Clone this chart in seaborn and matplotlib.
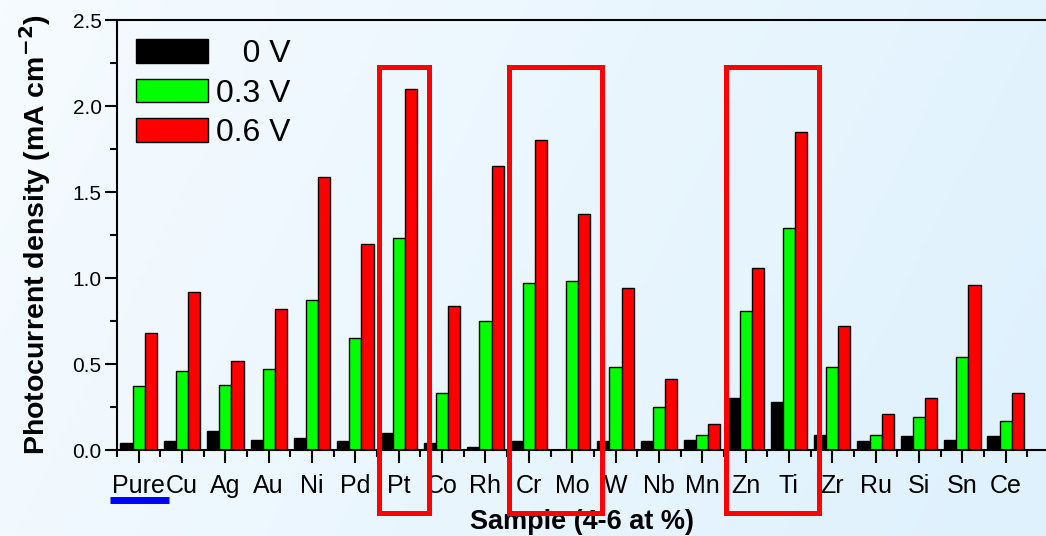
import numpy as np
import pandas as pd
import seaborn as sns
import matplotlib.pyplot as plt
from matplotlib.patches import Rectangle
from matplotlib.ticker import MultipleLocator

# Data
samples = ['Pure', 'Cu', 'Ag', 'Au', 'Ni', 'Pd', 'Pt', 'Co', 'Rh', 'Cr', 'Mo',
           'W', 'Nb', 'Mn', 'Zn', 'Ti', 'Zr', 'Ru', 'Si', 'Sn', 'Ce']
v_0 = [0.04, 0.05, 0.11, 0.06, 0.07, 0.05, 0.10, 0.04, 0.02, 0.05, 0.0,
       0.05, 0.05, 0.06, 0.30, 0.28, 0.09, 0.05, 0.08, 0.06, 0.08]
v_03 = [0.37, 0.46, 0.38, 0.47, 0.87, 0.65, 1.23, 0.33, 0.75, 0.97, 0.98,
        0.48, 0.25, 0.09, 0.81, 1.29, 0.48, 0.09, 0.19, 0.54, 0.17]
v_06 = [0.68, 0.92, 0.52, 0.82, 1.59, 1.20, 2.10, 0.84, 1.65, 1.80, 1.37,
        0.94, 0.41, 0.15, 1.06, 1.85, 0.72, 0.21, 0.30, 0.96, 0.33]
voltages = ['   0 V', '0.3 V', '0.6 V']
colors = ['#000000', '#00ff00', '#ff0000']
# highlighted groups (first, last sample index)
highlight = [(6, 6), (9, 10), (14, 15)]

df = pd.DataFrame({
    'sample': samples * 3,
    'voltage': [voltages[0]] * 21 + [voltages[1]] * 21 + [voltages[2]] * 21,
    'current': v_0 + v_03 + v_06,
})

plt.rcParams['font.family'] = ['Liberation Sans', 'DejaVu Sans']

fig = plt.figure(figsize=(10.46, 5.36), dpi=100)

# light blue gradient background
bg = fig.add_axes([0, 0, 1, 1], zorder=-10)
grad = np.linspace(0, 1, 256)[None, :]
grad = grad * 0.8 + np.linspace(0, 0.2, 64)[:, None]
cmap = plt.matplotlib.colors.LinearSegmentedColormap.from_list(
    'bg', ['#f6fbff', '#def1fd'])
bg.imshow(grad, aspect='auto', cmap=cmap, extent=[0, 1, 0, 1])
bg.axis('off')

ax = fig.add_axes([117 / 1046, 86 / 536, 929 / 1046, 430 / 536])
ax.patch.set_alpha(0)

sns.barplot(data=df, x='sample', y='current', hue='voltage', palette=colors,
            width=0.84, edgecolor='black', linewidth=1, ax=ax, saturation=1)

ax.set_xlim(-0.5, 20.93)
ax.set_ylim(0, 2.5)
ax.yaxis.set_major_locator(MultipleLocator(0.5))
ax.yaxis.set_minor_locator(MultipleLocator(0.25))
ax.xaxis.set_minor_locator(MultipleLocator(0.5))
ax.yaxis.set_major_formatter(plt.FormatStrFormatter('%.1f'))
ax.tick_params(axis='both', which='major', direction='out', length=9, width=1.5,
               color='black')
ax.tick_params(axis='both', which='minor', direction='out', length=5, width=1.5)
ax.tick_params(axis='x', labelsize=18, pad=8)
ax.tick_params(axis='y', labelsize=15, pad=2)
for s in ['left', 'bottom', 'top']:
    ax.spines[s].set_linewidth(1.5)
ax.spines['right'].set_visible(False)

ax.set_ylabel('Photocurrent density (mA cm$^{\\mathbf{-2}}$)', fontsize=20.5,
              fontweight='bold', labelpad=14)
ax.set_xlabel('Sample (4-6 at %)', fontsize=19.5, fontweight='bold', labelpad=8)

leg = ax.legend(loc='upper left', frameon=False, fontsize=23, handlelength=2.25,
                handleheight=0.75, labelspacing=0.3, handletextpad=0.25,
                borderaxespad=0.2, bbox_to_anchor=(0.0, 1.0))

# red boxes around the best dopants
for a, b in highlight:
    ax.add_patch(Rectangle((a - 0.46, -0.366), b - a + 1.15, 2.593, fill=False,
                           edgecolor='#ff0000', linewidth=3.6, clip_on=False,
                           zorder=5))

# blue underline under the reference sample
ax.plot([-0.65, 0.69], [-0.29, -0.29], color='#0000ff', linewidth=5,
        clip_on=False, solid_capstyle='butt')

fig.savefig('out.png', dpi=100)
